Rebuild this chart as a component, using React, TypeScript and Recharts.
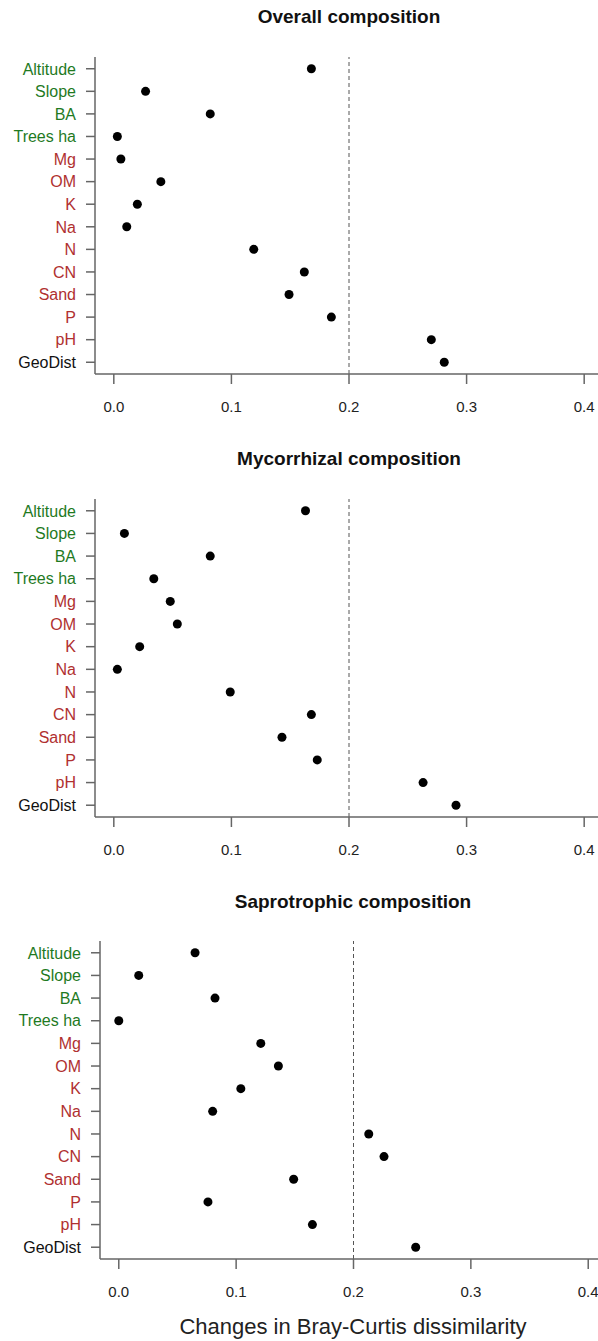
import { ScatterChart, Scatter, XAxis, YAxis, ReferenceLine } from 'recharts';

const categories = ['Altitude', 'Slope', 'BA', 'Trees ha', 'Mg', 'OM', 'K', 'Na', 'N', 'CN', 'Sand', 'P', 'pH', 'GeoDist'];
const groups = ['stand', 'stand', 'stand', 'stand', 'soil', 'soil', 'soil', 'soil', 'soil', 'soil', 'soil', 'soil', 'soil', 'geo'];

const overall = [0.168, 0.027, 0.082, 0.003, 0.006, 0.04, 0.02, 0.011, 0.119, 0.162, 0.149, 0.185, 0.27, 0.281];
const mycorrhizal = [0.163, 0.009, 0.082, 0.034, 0.048, 0.054, 0.022, 0.003, 0.099, 0.168, 0.143, 0.173, 0.263, 0.291];
const saprotrophic = [0.065, 0.017, 0.082, 0.0, 0.121, 0.136, 0.104, 0.08, 0.213, 0.226, 0.149, 0.076, 0.165, 0.253];

const xTicks = [0, 0.1, 0.2, 0.3, 0.4];
const threshold = 0.2;

const GROUP_COLORS: Record<string, string> = {
  stand: '#1f7a1f',
  soil: '#b03030',
  geo: '#111111',
};

const FONT = '"Liberation Sans", Arial, sans-serif';
const AXIS = '#666';

// page coordinates of each panel's plot box and title
const panels = [
  { title: 'Overall composition', values: overall, top: 0, plotTop: 57, plotBottom: 374, plotLeft: 95, plotRight: 603, titleX: 349, titleY: 17 },
  { title: 'Mycorrhizal composition', values: mycorrhizal, top: 440, plotTop: 499, plotBottom: 817, plotLeft: 95, plotRight: 603, titleX: 349, titleY: 459 },
  { title: 'Saprotrophic composition', values: saprotrophic, top: 880, plotTop: 941, plotBottom: 1259, plotLeft: 100, plotRight: 607, titleX: 353, titleY: 902 },
];

const CHART_W = 620;
const CHART_H = 440;
const X_AXIS_H = 40;

function CategoryTick(props: any) {
  const { x, y, payload } = props;
  const i = payload.value as number;
  return (
    <text x={x} y={y} dy="0.36em" textAnchor="end" fontSize={16} fontFamily={FONT} fill={GROUP_COLORS[groups[i]]}>
      {categories[i]}
    </text>
  );
}

function Dot(props: any) {
  return <circle cx={props.cx} cy={props.cy} r={4.5} fill="#000" />;
}

function Panel({ p }: { p: (typeof panels)[number] }) {
  const data = categories.map((name, i) => ({ name, row: i, value: p.values[i] }));
  const margin = {
    top: p.plotTop - p.top,
    right: CHART_W - p.plotRight,
    bottom: CHART_H - (p.plotBottom - p.top) - X_AXIS_H,
    left: 0,
  };
  return (
    <div style={{ position: 'absolute', left: 0, top: p.top, width: CHART_W, height: CHART_H }}>
      <div
        style={{
          position: 'absolute',
          left: p.titleX,
          top: p.titleY - p.top - 12,
          transform: 'translateX(-50%)',
          whiteSpace: 'nowrap',
          fontFamily: FONT,
          fontWeight: 'bold',
          fontSize: 19,
          lineHeight: '24px',
          color: '#111',
        }}
      >
        {p.title}
      </div>
      <ScatterChart width={CHART_W} height={CHART_H} margin={margin}>
        <XAxis
          type="number"
          dataKey="value"
          domain={[-0.016, 0.416]}
          allowDataOverflow
          ticks={xTicks}
          tickFormatter={(v: number) => v.toFixed(1)}
          height={X_AXIS_H}
          tickSize={10}
          tickMargin={17}
          stroke={AXIS}
          strokeWidth={1.5}
          tick={{ fontSize: 15, fontFamily: FONT, fill: '#222' }}
        />
        <YAxis
          type="number"
          dataKey="row"
          domain={[-0.52, 13.52]}
          reversed
          allowDataOverflow
          ticks={categories.map((_, i) => i)}
          interval={0}
          width={p.plotLeft}
          tickSize={9}
          tickMargin={10}
          stroke={AXIS}
          strokeWidth={1.5}
          tick={<CategoryTick />}
        />
        <ReferenceLine x={threshold} stroke="#555" strokeDasharray="4 3" />
        <Scatter data={data} shape={<Dot />} isAnimationActive={false} />
      </ScatterChart>
    </div>
  );
}

export default function App() {
  return (
    <div style={{ position: 'absolute', left: 0, top: 0, width: 598, height: 1341, overflow: 'hidden', background: '#fff' }}>
      {panels.map((p) => (
        <Panel key={p.title} p={p} />
      ))}
      <div
        style={{
          position: 'absolute',
          left: 353,
          top: 1315,
          transform: 'translateX(-50%)',
          whiteSpace: 'nowrap',
          fontFamily: FONT,
          fontSize: 22,
          lineHeight: '24px',
          color: '#222',
        }}
      >
        Changes in Bray-Curtis dissimilarity
      </div>
    </div>
  );
}
